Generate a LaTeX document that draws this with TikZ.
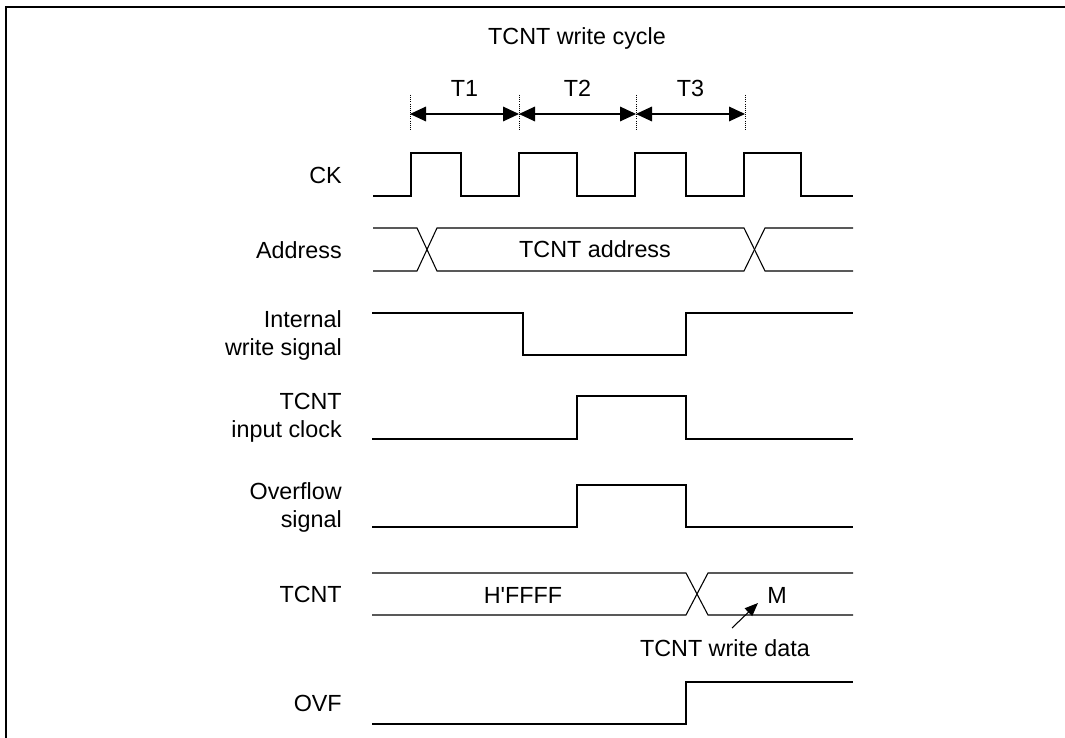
\documentclass[tikz,border=0pt]{standalone}
\usepackage{fontspec}
\setmainfont{Liberation Sans}
\usetikzlibrary{arrows.meta,positioning,calc}
\tikzset{
  wave/.style={line width=0.8pt, line join=miter},
  frameLine/.style={line width=1.5pt},
  sigLabel/.style={anchor=east, align=right, inner sep=0pt,
    font=\fontsize{17.5}{21}\selectfont},
  waveText/.style={anchor=base, inner sep=0pt, font=\fontsize{17.5}{21}\selectfont},
  tickLine/.style={densely dotted, line width=0.6pt},
  dimArrow/.style={{Triangle[length=12pt,width=11pt]}-{Triangle[length=12pt,width=11pt]}, line width=0.9pt},
  noteArrow/.style={-{Triangle[length=10pt,width=8pt]}, line width=0.8pt}
}

\begin{document}
\begin{tikzpicture}[x=0.75pt, y=-0.75pt]
  \useasboundingbox (0,0) rectangle (1065,738);
  % frame, cut at the right and the bottom
  \draw[frameLine] (6,738) -- (6,7) -- (1065,7);

  \node[waveText] (title) at (577,45) {TCNT write cycle};

  % T1..T3 periods
  \foreach \x [count=\i from 0] in {410,519,636,745} {
    \coordinate (t\i) at (\x,114);
    \draw[tickLine] (\x,95) -- (\x,130);
  }
  \draw[dimArrow] (t0) -- (t1);
  \draw[dimArrow] (t1) -- (t2);
  \draw[dimArrow] (t2) -- (t3);
  \node[waveText, above=12.75pt of $(t0)!0.5!(t1)$, anchor=base] (lblT1) {T1};
  \node[waveText, above=12.75pt of $(t1)!0.5!(t2)$, anchor=base] (lblT2) {T2};
  \node[waveText, above=12.75pt of $(t2)!0.5!(t3)$, anchor=base] (lblT3) {T3};

  % signal names
  \node[sigLabel] (nameCK)   at (342,175) {CK};
  \node[sigLabel] (nameAddr) at (342,250) {Address};
  \node[sigLabel] (nameWr)   at (342,335) {Internal\\write signal};
  \node[sigLabel] (nameClk)  at (342,418) {TCNT\\input clock};
  \node[sigLabel] (nameOvs)  at (342,507) {Overflow\\signal};
  \node[sigLabel] (nameTcnt) at (342,594) {TCNT};
  \node[sigLabel] (nameOvf)  at (342,703) {OVF};

  % CK
  \draw[wave] (373,196) -- (411,196) -- (411,153) -- (461,153) -- (461,196)
    -- (519,196) -- (519,153) -- (577,153) -- (577,196)
    -- (635,196) -- (635,153) -- (686,153) -- (686,196)
    -- (744,196) -- (744,153) -- (801,153) -- (801,196) -- (853,196);

  % Address
  \draw[wave] (373,228) -- (417,228) -- (437,271) -- (744,271) -- (765,228) -- (853,228);
  \draw[wave] (373,271) -- (417,271) -- (437,228) -- (744,228) -- (765,271) -- (853,271);
  \node[waveText] (addrVal) at (595,258) {TCNT address};

  % Internal write signal
  \draw[wave] (372,313) -- (523,313) -- (523,355) -- (686,355) -- (686,313) -- (853,313);

  % TCNT input clock
  \draw[wave] (372,439) -- (577,439) -- (577,396) -- (686,396) -- (686,439) -- (853,439);

  % Overflow signal
  \draw[wave] (372,527) -- (577,527) -- (577,485) -- (686,485) -- (686,527) -- (853,527);

  % TCNT
  \draw[wave] (372,573) -- (686,573) -- (708,615) -- (853,615);
  \draw[wave] (372,615) -- (686,615) -- (708,573) -- (853,573);
  \node[waveText] (valOld) at (523,603) {H\textquotesingle FFFF};
  \node[waveText] (valNew) at (777,603) {M};
  \node[waveText] (wdata) at (725,656) {TCNT write data};
  \coordinate (wdataFoot) at (732,628);
  \coordinate (wdataTip) at (758,603);
  \draw[noteArrow] (wdataFoot) -- (wdataTip);

  % OVF
  \draw[wave] (372,724) -- (686,724) -- (686,682) -- (853,682);
\end{tikzpicture}
\end{document}
